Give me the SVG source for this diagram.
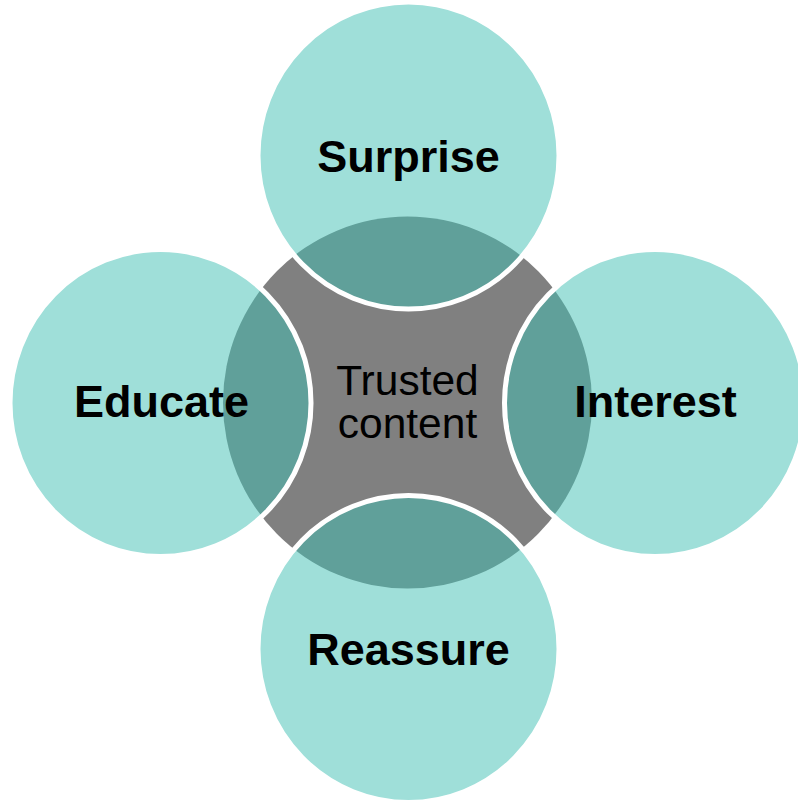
<svg xmlns="http://www.w3.org/2000/svg" width="798" height="805" viewBox="0 0 798 805">
<style>
.outer{fill:#40BFB3;fill-opacity:0.5;stroke:#FFFFFF;stroke-width:5}
.lbl{font-family:"Liberation Sans",Arial,sans-serif;font-weight:bold;font-size:45px;fill:#000000;text-anchor:middle}
.ctr{font-family:"Liberation Sans",Arial,sans-serif;font-size:42.5px;fill:#000000;text-anchor:middle}
</style>
<rect x="0" y="0" width="798" height="805" fill="#FFFFFF"/>
<g id="center">
<ellipse cx="407.5" cy="402.5" rx="184.5" ry="186" fill="#808080"/>
</g>
<g id="surprise">
<ellipse class="outer" cx="408.5" cy="155.5" rx="150.5" ry="153.5"/>
<text class="lbl" x="408.5" y="171.5">Surprise</text>
</g>
<g id="educate">
<ellipse class="outer" cx="160.5" cy="403" rx="150.5" ry="153.5"/>
<text class="lbl" x="161.5" y="417">Educate</text>
</g>
<g id="interest">
<ellipse class="outer" cx="655" cy="403" rx="150.5" ry="153.5"/>
<text class="lbl" x="655.5" y="417">Interest</text>
</g>
<g id="reassure">
<ellipse class="outer" cx="408.5" cy="649" rx="150.5" ry="153.5"/>
<text class="lbl" x="408.5" y="665">Reassure</text>
</g>
<g id="center-label">
<text class="ctr" x="407.5" y="394.5">Trusted</text>
<text class="ctr" x="407.5" y="437.5">content</text>
</g>
</svg>
